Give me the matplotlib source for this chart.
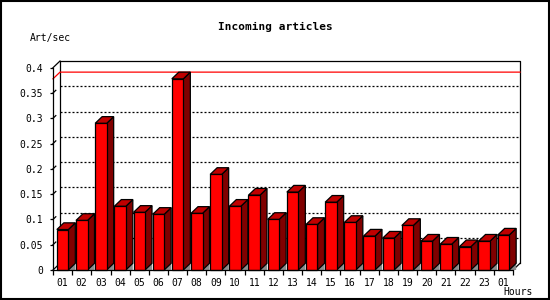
import matplotlib
matplotlib.use("Agg")
import matplotlib.pyplot as plt
from matplotlib.patches import Polygon, Rectangle

hours = ["01", "02", "03", "04", "05", "06", "07", "08", "09", "10", "11", "12",
         "13", "14", "15", "16", "17", "18", "19", "20", "21", "22", "23", "01"]
rate = [0.080, 0.098, 0.290, 0.126, 0.114, 0.110, 0.378, 0.112, 0.189, 0.126,
        0.148, 0.100, 0.154, 0.090, 0.134, 0.094, 0.067, 0.063, 0.088, 0.057,
        0.051, 0.046, 0.057, 0.069]
yticks = [0, 0.05, 0.1, 0.15, 0.2, 0.25, 0.3, 0.35, 0.4]
ytick_labels = ["0", "0.05", "0.1", "0.15", "0.2", "0.25", "0.3", "0.35", "0.4"]

mono = "DejaVu Sans Mono"


def main():
    fig = plt.figure(figsize=(5.5, 3), dpi=100)
    # plot area in pixels: x 53..513, y 270 (0) .. 67.7 (0.4)
    ax = fig.add_axes([53 / 550, 30 / 300, 460 / 550, 202.3 / 300])
    n = len(rate)
    ax.set_xlim(0, n)
    ax.set_ylim(0, 0.4)

    # 3d depth, ~7 px to the right and up
    dx = 7 / (460 / n)
    dy = 6.7 / (202.3 / 0.4)
    line_kw = dict(color="black", lw=0.9, clip_on=False)

    # back plane + grid
    ax.plot([dx, dx, n + dx, n + dx], [dy, 0.4 + dy, 0.4 + dy, dy], **line_kw, zorder=1)
    ax.plot([0, dx], [0.4, 0.4 + dy], **line_kw, zorder=1)
    ax.plot([n, n + dx], [0, dy], **line_kw, zorder=1)
    ax.plot([0, dx], [0, dy], **line_kw, zorder=1)
    for v in yticks[1:-1]:
        ax.plot([dx, n + dx], [v + dy, v + dy], color="black", lw=0.9,
                ls=(0, (1.6, 1.6)), clip_on=False, zorder=1)
        ax.plot([0, dx * 0.4], [v, v + dy * 0.4], **line_kw, zorder=1)
    vmax = max(rate)
    ax.plot([0, dx, n + dx], [vmax, vmax + dy, vmax + dy], color="red", lw=0.9,
            clip_on=False, zorder=1)

    # bars
    w = 0.6
    for i, v in enumerate(rate):
        x0 = i + 0.2
        x1 = x0 + w
        ax.add_patch(Polygon([(x1, 0), (x1 + dx, dy), (x1 + dx, 0)], closed=True,
                             facecolor="#8c8c8c", edgecolor="none", zorder=2, clip_on=False))
        ax.add_patch(Polygon([(x1, 0), (x1 + dx, dy), (x1 + dx, v + dy), (x1, v)], closed=True,
                             facecolor="#800000", edgecolor="black", lw=0.9, zorder=3, clip_on=False))
        ax.add_patch(Polygon([(x0, v), (x0 + dx, v + dy), (x1 + dx, v + dy), (x1, v)], closed=True,
                             facecolor="#c00000", edgecolor="black", lw=0.9, zorder=3, clip_on=False))
    ax.bar([i + 0.5 for i in range(n)], rate, width=w, color="#ff0000",
           edgecolor="black", linewidth=0.9, zorder=4, clip_on=False)

    # axes
    for s in ["top", "right"]:
        ax.spines[s].set_visible(False)
    for s in ["left", "bottom"]:
        ax.spines[s].set_linewidth(0.9)
        ax.spines[s].set_zorder(5)
    ax.set_yticks(yticks)
    ax.set_yticklabels(ytick_labels, fontfamily=mono, fontsize=7)
    ax.tick_params(axis="y", length=2, width=0.9, pad=5)
    ax.set_xticks([i + 0.5 for i in range(n)])
    ax.set_xticklabels(hours, fontfamily=mono, fontsize=7)
    ax.set_xticks(range(n + 1), minor=True)
    ax.tick_params(axis="x", which="major", length=0, pad=6)
    ax.tick_params(axis="x", which="minor", length=3.5, width=0.9)

    fig.text(275 / 550, 1 - 27 / 300, "Incoming articles", fontfamily=mono,
             fontweight="bold", fontsize=8, ha="center", va="center")
    fig.text(30 / 550, 1 - 37.5 / 300, "Art/sec", fontfamily=mono, fontsize=7,
             ha="left", va="center")
    fig.text(533 / 550, 1 - 292 / 300, "Hours", fontfamily=mono, fontsize=7,
             ha="right", va="center")

    fig.patches.append(Rectangle((0.001, 0.002), 0.997, 0.995, transform=fig.transFigure,
                                 fill=False, edgecolor="black", lw=1.5))

    fig.savefig("out.png", dpi=100)
    plt.close(fig)


if __name__ == "__main__":
    main()
